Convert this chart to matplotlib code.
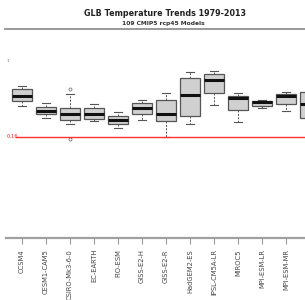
import matplotlib
matplotlib.use("Agg")
import matplotlib.pyplot as plt
from matplotlib.lines import Line2D

# Model names (last one is cut off at the right edge in the reference)
models = ["CCSM4", "CESM1-CAM5", "CSIRO-Mk3-6-0", "EC-EARTH", "FIO-ESM",
          "GISS-E2-H", "GISS-E2-R", "HadGEM2-ES", "IPSL-CM5A-LR", "MIROC5",
          "MPI-ESM-LR", "MPI-ESM-MR", "NorESM1-M"]

# Trend statistics (degC / decade)
whis_hi = [0.262, 0.228, 0.246, 0.226, 0.210, 0.234, 0.248, 0.290, 0.292, 0.248, 0.234, 0.250, 0.310]
q3      = [0.256, 0.220, 0.218, 0.218, 0.202, 0.228, 0.234, 0.278, 0.286, 0.242, 0.232, 0.246, 0.250]
median  = [0.242, 0.212, 0.206, 0.206, 0.194, 0.218, 0.206, 0.244, 0.274, 0.238, 0.230, 0.242, 0.226]
q1      = [0.232, 0.206, 0.194, 0.196, 0.186, 0.206, 0.192, 0.202, 0.248, 0.214, 0.222, 0.226, 0.198]
whis_lo = [0.222, 0.198, 0.186, 0.192, 0.178, 0.194, 0.160, 0.186, 0.224, 0.190, 0.218, 0.212, 0.114]
outliers = [[], [], [0.256, 0.156], [], [], [], [], [], [], [], [], [], []]

obs_trend = 0.16

stats = []
for i, name in enumerate(models):
    stats.append({"label": name, "whishi": whis_hi[i], "q3": q3[i], "med": median[i],
                  "q1": q1[i], "whislo": whis_lo[i], "fliers": outliers[i]})

fig = plt.figure(figsize=(3.05, 3.0), dpi=100)
W, H = 305.0, 300.0
# axes runs past the right edge like the cropped original
ax = fig.add_axes([6 / W, 1 - 238 / H, 324 / W, 203 / H])

ax.bxp(stats, positions=range(1, len(models) + 1), widths=0.85, capwidths=0.3,
       patch_artist=True,
       boxprops=dict(facecolor="#d0d0d0", edgecolor="#555555", linewidth=0.9),
       medianprops=dict(color="#111111", linewidth=2.2),
       whiskerprops=dict(color="#555555", linewidth=0.7, linestyle=(0, (2, 1.5))),
       capprops=dict(color="#555555", linewidth=0.8),
       flierprops=dict(marker="o", markersize=2.2, markerfacecolor="none",
                       markeredgecolor="#666666", markeredgewidth=0.5))

ax.set_xlim(1 - 16 / 24, 1 - 16 / 24 + 13.5)
ax.set_ylim(-0.042, 0.364)

# observed trend
ax.axhline(obs_trend, xmin=10 / 324, xmax=1, color="#ff3030", linewidth=1.0)
ax.text(1 - 15.5 / 24, obs_trend, "0.16", color="#ff2020", fontsize=3.8,
        ha="left", va="center")
ax.text(1 - 15 / 24, 0.312, "1", color="#777777", fontsize=3.2, ha="left", va="center")

for side in ["top", "right", "left"]:
    ax.spines[side].set_visible(False)
ax.spines["bottom"].set_color("#a0a0a0")
ax.spines["bottom"].set_linewidth(1.6)
ax.set_yticks([])
ax.set_xticks(range(1, len(models) + 1))
ax.set_xticklabels(models, rotation=90, fontsize=4.9, color="#444444", va="top")
ax.tick_params(axis="x", length=4, width=0.8, color="#999999", pad=4)

# title block
fig.text(165 / W, 1 - 13 / H, "GLB Temperature Trends 1979-2013", ha="center", va="center",
         fontsize=5.8, fontweight="bold", color="#222222")
fig.text(163 / W, 1 - 23 / H, "109 CMIP5 rcp45 Models", ha="center", va="center",
         fontsize=4.3, fontweight="bold", color="#333333")
fig.add_artist(Line2D([5 / W, 1.0], [1 - 29 / H, 1 - 29 / H], color="#9a9a9a",
                      linewidth=1.4, transform=fig.transFigure))

fig.savefig("out.png", dpi=100, facecolor="white")
